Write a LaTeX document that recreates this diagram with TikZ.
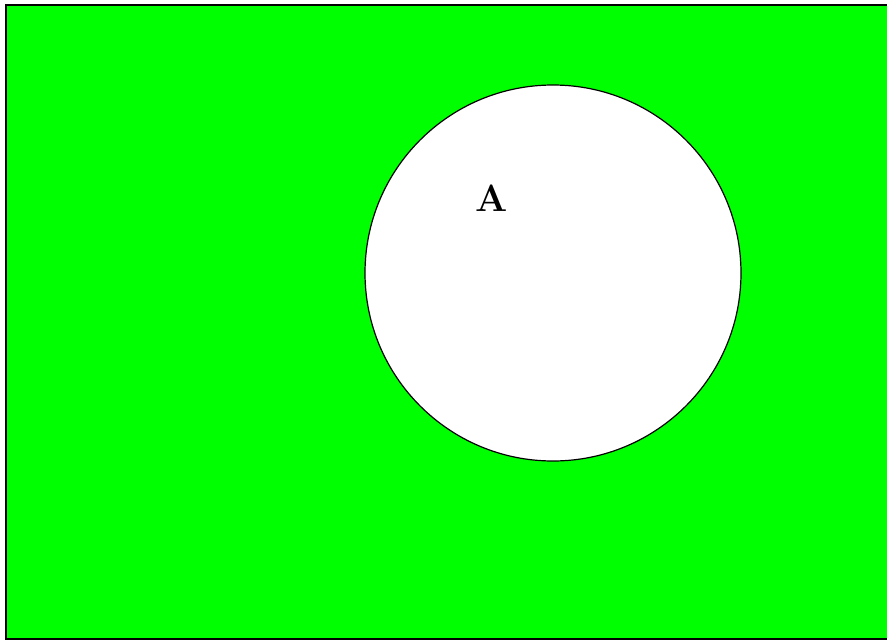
\documentclass[tikz,border=0pt]{standalone}
\usepackage{tikz}
\usetikzlibrary{positioning}
\definecolor{universe}{HTML}{00FF00}
\tikzset{
    setcircle/.style={circle, draw=black, fill=white, line width=1.2pt, minimum size=376pt, inner sep=0pt},
    setlabel/.style={font=\fontsize{38}{40}\selectfont\bfseries, inner sep=0pt}
}
\begin{document}
\begin{tikzpicture}[x=1pt, y=-1pt]
% Canvas
\clip (0,0) rectangle (887,640);
\fill[white] (0,0) rectangle (887,640);
% Universal set
\draw[fill=universe, line width=2pt] (6,5) rectangle (895,639);
% Set A
\node[setcircle] (setA) at (553,273) {};
\node[setlabel] (labelA) at (492,198) {A};
\end{tikzpicture}
\end{document}
